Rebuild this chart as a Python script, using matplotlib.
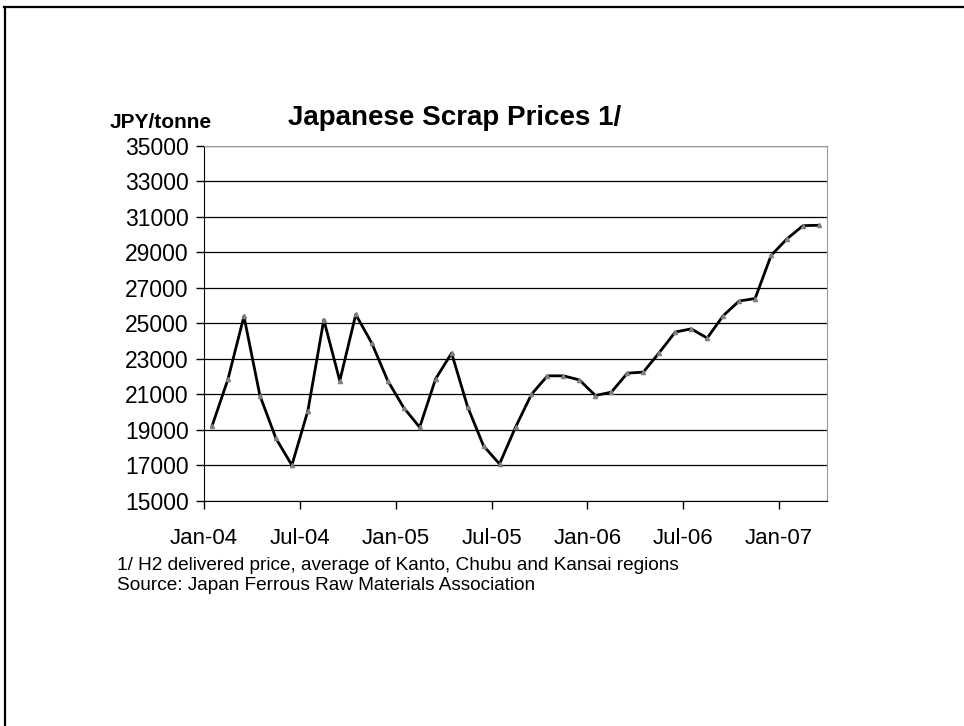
import numpy as np
import matplotlib.pyplot as plt
from matplotlib.lines import Line2D

plt.rcParams["font.family"] = ["Liberation Sans", "DejaVu Sans"]

# monthly prices Jan-04 .. Mar-07 (JPY/tonne)
months = ["Jan-04", "Feb-04", "Mar-04", "Apr-04", "May-04", "Jun-04", "Jul-04", "Aug-04", "Sep-04",
          "Oct-04", "Nov-04", "Dec-04", "Jan-05", "Feb-05", "Mar-05", "Apr-05", "May-05", "Jun-05",
          "Jul-05", "Aug-05", "Sep-05", "Oct-05", "Nov-05", "Dec-05", "Jan-06", "Feb-06", "Mar-06",
          "Apr-06", "May-06", "Jun-06", "Jul-06", "Aug-06", "Sep-06", "Oct-06", "Nov-06", "Dec-06",
          "Jan-07", "Feb-07", "Mar-07"]
prices = [19200, 21850, 25400, 20930, 18520, 17000, 20060, 25200, 21760, 25500, 23890, 21770,
          20250, 19140, 21870, 23320, 20300, 18090, 17070, 19140, 21000, 22040, 22040, 21810,
          20930, 21120, 22190, 22250, 23350, 24510, 24690, 24170, 25430, 26260, 26400, 28830,
          29770, 30510, 30530]
tick_labels = ["Jan-04", "Jul-04", "Jan-05", "Jul-05", "Jan-06", "Jul-06", "Jan-07"]
y_ticks = list(range(15000, 35001, 2000))

fig = plt.figure(figsize=(9.64, 7.26), dpi=100)
ax = fig.add_axes([204 / 964, 1 - 500.7 / 726, 623 / 964, 354.7 / 726])

x = np.arange(len(prices))
ax.plot(x, prices, color="black", lw=2, zorder=3)
ax.plot(x, prices, ls="none", marker="^", ms=3, color="#808080", zorder=4)

ax.set_xlim(-0.5, len(prices) - 0.5)
ax.set_ylim(15000, 35000)
ax.set_yticks(y_ticks)
ax.set_yticklabels([str(v) for v in y_ticks])
ax.set_xticks([-0.5 + 6 * k for k in range(len(tick_labels))])
ax.set_xticklabels(tick_labels)
ax.yaxis.grid(True, color="black", lw=0.9)
ax.set_axisbelow(True)

ax.tick_params(axis="y", direction="out", length=6, width=1, labelsize=16.5, pad=5)
ax.tick_params(axis="x", direction="out", length=6, width=1, labelsize=16, pad=14)
for s in ["top", "right"]:
    ax.spines[s].set_color("#999999")
for s in ["left", "bottom"]:
    ax.spines[s].set_color("black")

fig.text(455 / 964, 1 - 118 / 726, "Japanese Scrap Prices 1/", ha="center", va="center",
         fontsize=20, fontweight="bold")
fig.text(161 / 964, 1 - 122 / 726, "JPY/tonne", ha="center", va="center",
         fontsize=15, fontweight="bold")
fig.text(117 / 964, 1 - 566 / 726, "1/ H2 delivered price, average of Kanto, Chubu and Kansai regions",
         ha="left", va="center", fontsize=13.7)
fig.text(117 / 964, 1 - 585 / 726, "Source: Japan Ferrous Raw Materials Association",
         ha="left", va="center", fontsize=13.7)

# page border (top and left edges)
fig.add_artist(Line2D([4 / 964, 1], [1 - 7 / 726, 1 - 7 / 726], color="black", lw=1.6,
                      transform=fig.transFigure))
fig.add_artist(Line2D([5 / 964, 5 / 964], [0, 1 - 7 / 726], color="black", lw=1.6,
                      transform=fig.transFigure))

fig.savefig("out.png", dpi=100)
